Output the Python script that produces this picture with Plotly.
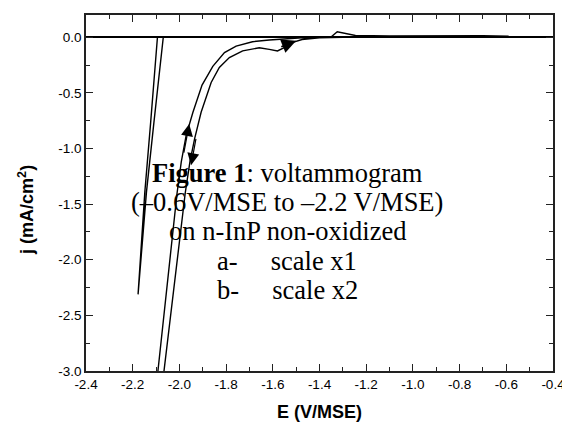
import plotly.graph_objects as go

# Curve a (narrow loop)
a_E = [-0.60, -1.40, -2.069, -2.109, -2.141, -2.177, -2.148, -2.123, -2.094, -1.40, -0.60]
a_j = [0.0, 0.0, 0.0, -0.763, -1.39, -2.311, -1.39, -0.763, 0.0, 0.0, 0.0]

# Curve b (wide loop)
b_E = [-0.59, -0.80, -1.00, -1.20, -1.30, -1.40, -1.475, -1.517, -1.551, -1.580, -1.615,
       -1.658, -1.729, -1.786, -1.829, -1.864, -1.907, -1.935, -1.955, -1.975, -2.066, -2.078,
       -2.090, -2.102, -2.092, -2.010, -1.992, -1.971, -1.942, -1.903, -1.857, -1.807,
       -1.757, -1.687, -1.615, -1.544, -1.475, -1.40, -1.352, -1.324, -1.29, -1.246,
       -1.10, -0.90, -0.70, -0.59]
b_j = [0.010, 0.012, 0.010, 0.005, 0.0, -0.005, -0.020, -0.049, -0.094, -0.123, -0.109,
       -0.094, -0.123, -0.183, -0.272, -0.406, -0.674, -0.913, -1.121, -1.40, -3.0, -3.2,
       -3.25, -3.2, -3.0, -1.40, -1.121, -0.882, -0.674, -0.430, -0.262, -0.138,
       -0.079, -0.040, -0.025, -0.013, -0.004, 0.0, 0.0, 0.049, 0.035, 0.016,
       0.012, 0.014, 0.013, 0.010]

x_ticks = [-2.4, -2.2, -2.0, -1.8, -1.6, -1.4, -1.2, -1.0, -0.8, -0.6, -0.4]
x_tick_text = ["-2.4", "-2.2", "-2.0", "-1.8", "-1.6", "-1.4", "-1.2", "-1.0", "-0.8", "-0.6", "-0.4"]
y_ticks = [0.0, -0.5, -1.0, -1.5, -2.0, -2.5, -3.0]
y_tick_text = ["0.0", "-0.5", "-1.0", "-1.5", "-2.0", "-2.5", "-3.0"]

caption_lines = ["<b>Figure 1</b>: voltammogram",
                 "(–0.6V/MSE to –2.2 V/MSE)",
                 "on n-InP non-oxidized",
                 "a-\u00a0\u00a0\u00a0\u00a0 scale x1",
                 "b-\u00a0\u00a0\u00a0\u00a0 scale x2"]
caption_y = [-1.219, -1.483, -1.746, -2.010, -2.273]

fig = go.Figure()
fig.add_trace(go.Scatter(x=a_E, y=a_j, mode="lines", line=dict(color="black", width=1.4),
                         showlegend=False, hoverinfo="skip"))
fig.add_trace(go.Scatter(x=b_E, y=b_j, mode="lines", line=dict(color="black", width=1.4),
                         showlegend=False, hoverinfo="skip"))

axis_common = dict(showline=True, linecolor="#222", linewidth=1.6, mirror="ticks",
                   ticks="inside", ticklen=7, tickwidth=1.2, tickcolor="#222",
                   showgrid=False, tickfont=dict(family="Arial, Liberation Sans", size=13.5, color="black"))

fig.update_xaxes(range=[-2.4, -0.4], tickvals=x_ticks, ticktext=x_tick_text,
                 minor=dict(dtick=0.1, ticks="inside", ticklen=4, tickwidth=1.2, tickcolor="#222", showgrid=False),
                 zeroline=False, **axis_common)
fig.update_yaxes(range=[-3.0, 0.2], tickvals=y_ticks, ticktext=y_tick_text,
                 minor=dict(dtick=0.25, tick0=0, ticks="inside", ticklen=4, tickwidth=1.2, tickcolor="#222", showgrid=False),
                 zeroline=True, zerolinecolor="black", zerolinewidth=2, **axis_common)

annotations = []
for txt, yy in zip(caption_lines, caption_y):
    annotations.append(dict(x=-1.539, y=yy, xref="x", yref="y", text=txt, showarrow=False,
                            xanchor="center", yanchor="middle",
                            font=dict(family="Liberation Serif, Times New Roman", size=26.5, color="black")))

# arrows on the wide loop
annotations.append(dict(x=-1.958, y=-0.78, ax=-1.982, ay=-1.05, xref="x", yref="y", axref="x", ayref="y",
                        text="", showarrow=True, arrowhead=2, arrowsize=2.0, arrowwidth=1.2, arrowcolor="black"))
annotations.append(dict(x=-1.950, y=-1.15, ax=-1.928, ay=-0.90, xref="x", yref="y", axref="x", ayref="y",
                        text="", showarrow=True, arrowhead=2, arrowsize=2.0, arrowwidth=1.2, arrowcolor="black"))
annotations.append(dict(x=-1.500, y=-0.032, ax=-1.570, ay=-0.090, xref="x", yref="y", axref="x", ayref="y",
                        text="", showarrow=True, arrowhead=2, arrowsize=1.8, arrowwidth=1.6, arrowcolor="black"))

annotations.append(dict(x=-0.128, y=-1.55, xref="paper", yref="y", text="<b>j (mA/cm<sup>2</sup>)</b>",
                        showarrow=False, textangle=-90, xanchor="center", yanchor="middle",
                        font=dict(family="Arial, Liberation Sans", size=18, color="black")))

# page body has an 8px margin: figure is offset by 8px right and down
fig.update_layout(
    width=562, height=417,
    margin=dict(l=78, r=15, t=5, b=54),
    paper_bgcolor="white", plot_bgcolor="white",
    xaxis_title=dict(text="<b>E (V/MSE)</b>", font=dict(family="Arial, Liberation Sans", size=18, color="black"),
                     standoff=14),
    annotations=annotations,
)

fig.write_html("out.html")
